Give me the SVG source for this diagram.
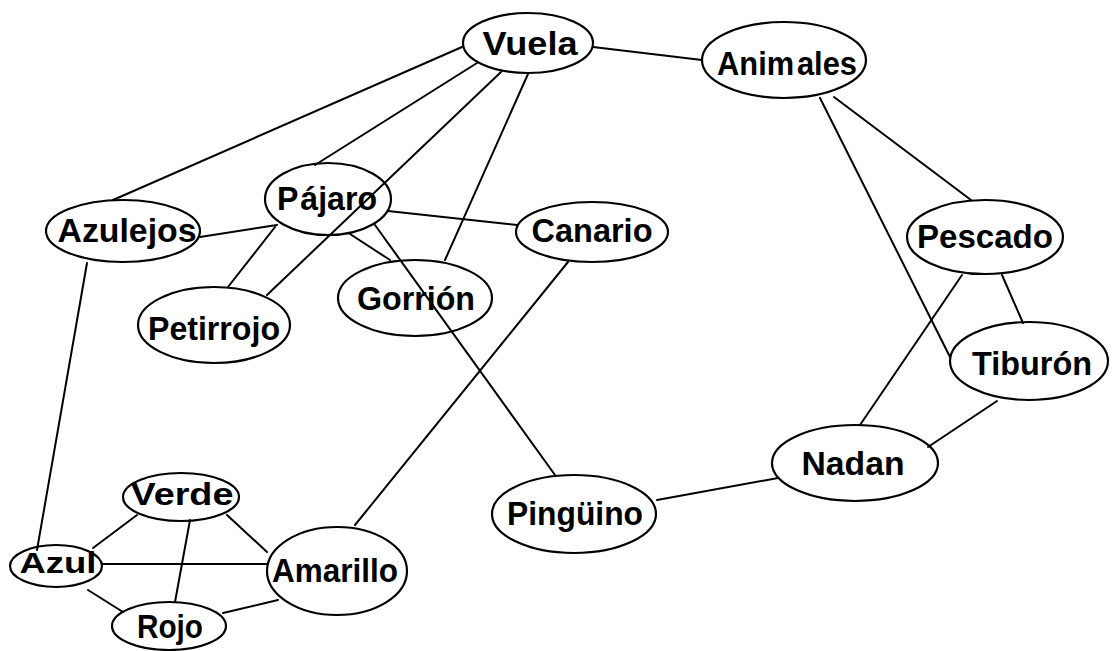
<svg xmlns="http://www.w3.org/2000/svg" width="1113" height="651" viewBox="0 0 1113 651">
  <style>
    .node ellipse { fill: none; stroke: #000; stroke-width: 2.2; }
    .node text { font-family: "Liberation Sans", Arial, sans-serif; font-weight: bold; font-size: 33px; fill: #000; text-anchor: middle; }
    #edges line { stroke: #000; stroke-width: 2; stroke-linecap: round; }
  </style>
  <rect width="1113" height="651" fill="#fff"/>

  <!-- connectors -->
  <g id="edges">
    <line x1="462" y1="47" x2="113" y2="200"/>   <!-- Vuela - Azulejos -->
    <line x1="477" y1="63" x2="315" y2="165"/>   <!-- Vuela - Pájaro -->
    <line x1="501" y1="72" x2="267" y2="295"/>   <!-- Vuela - Petirrojo -->
    <line x1="528" y1="74" x2="445" y2="260"/>   <!-- Vuela - Gorrión -->
    <line x1="593" y1="47" x2="702" y2="60"/>    <!-- Vuela - Animales -->
    <line x1="200" y1="237" x2="277" y2="225"/>  <!-- Azulejos - Pájaro -->
    <line x1="275" y1="227" x2="228" y2="287"/>  <!-- Pájaro - Petirrojo -->
    <line x1="388" y1="211" x2="517" y2="225"/>  <!-- Pájaro - Canario -->
    <line x1="350" y1="234" x2="390" y2="260"/>  <!-- Pájaro - Gorrión -->
    <line x1="375" y1="225" x2="555" y2="475"/>  <!-- Pájaro - Pingüino -->
    <line x1="568" y1="262" x2="355" y2="525"/>  <!-- Canario - Amarillo -->
    <line x1="87" y1="263" x2="37" y2="550"/>    <!-- Azulejos - Azul -->
    <line x1="834" y1="97" x2="971" y2="200"/>   <!-- Animales - Pescado -->
    <line x1="820" y1="98" x2="950" y2="357"/>   <!-- Animales - Tiburón -->
    <line x1="1002" y1="275" x2="1023" y2="323"/> <!-- Pescado - Tiburón -->
    <line x1="962" y1="275" x2="860" y2="425"/>  <!-- Pescado - Nadan -->
    <line x1="997" y1="401" x2="928" y2="447"/>  <!-- Tiburón - Nadan -->
    <line x1="657" y1="500" x2="778" y2="478"/>  <!-- Pingüino - Nadan -->
    <line x1="137" y1="515" x2="93" y2="548"/>   <!-- Verde - Azul -->
    <line x1="227" y1="515" x2="267" y2="552"/>  <!-- Verde - Amarillo -->
    <line x1="190" y1="520" x2="175" y2="602"/>  <!-- Verde - Rojo -->
    <line x1="102" y1="564" x2="267" y2="564"/>  <!-- Azul - Amarillo -->
    <line x1="88" y1="590" x2="123" y2="612"/>   <!-- Azul - Rojo -->
    <line x1="223" y1="613" x2="278" y2="600"/>  <!-- Rojo - Amarillo -->
  </g>

  <!-- nodes -->
  <g id="vuela" class="node">
    <ellipse cx="528" cy="43" rx="65" ry="30"/>
    <text x="530" y="55" textLength="95" lengthAdjust="spacingAndGlyphs">Vuela</text>
  </g>
  <g id="animales" class="node">
    <ellipse cx="784" cy="60" rx="82" ry="38"/>
    <text x="787" y="75" textLength="140" lengthAdjust="spacingAndGlyphs">Anim<tspan dx="3">ales</tspan></text>
  </g>
  <g id="azulejos" class="node">
    <ellipse cx="123" cy="231" rx="77" ry="31"/>
    <text x="127" y="242" textLength="139" lengthAdjust="spacingAndGlyphs">Azulejos</text>
  </g>
  <g id="pajaro" class="node">
    <ellipse cx="328" cy="199" rx="63" ry="36"/>
    <text x="327" y="210" textLength="100" lengthAdjust="spacingAndGlyphs">P<tspan dx="2">ájaro</tspan></text>
  </g>
  <g id="petirrojo" class="node">
    <ellipse cx="214" cy="325" rx="76" ry="38"/>
    <text x="214" y="340" textLength="132" lengthAdjust="spacingAndGlyphs">Petirrojo</text>
  </g>
  <g id="gorrion" class="node">
    <ellipse cx="415" cy="298" rx="77" ry="38"/>
    <text x="416" y="310" textLength="118" lengthAdjust="spacingAndGlyphs">Gorrión</text>
  </g>
  <g id="canario" class="node">
    <ellipse cx="592" cy="232" rx="76" ry="30"/>
    <text x="592" y="242" textLength="121" lengthAdjust="spacingAndGlyphs">Canario</text>
  </g>
  <g id="pescado" class="node">
    <ellipse cx="985" cy="237" rx="78" ry="37"/>
    <text x="985" y="248" textLength="136" lengthAdjust="spacingAndGlyphs">Pescado</text>
  </g>
  <g id="tiburon" class="node">
    <ellipse cx="1029" cy="361" rx="79" ry="39"/>
    <text x="1032" y="375" textLength="120" lengthAdjust="spacingAndGlyphs">Tiburón</text>
  </g>
  <g id="nadan" class="node">
    <ellipse cx="855" cy="463" rx="83" ry="38"/>
    <text x="853" y="475" textLength="103" lengthAdjust="spacingAndGlyphs">Nadan</text>
  </g>
  <g id="pinguino" class="node">
    <ellipse cx="574" cy="514" rx="82" ry="39"/>
    <text x="575" y="525" textLength="136" lengthAdjust="spacingAndGlyphs">Pingüino</text>
  </g>
  <g id="verde" class="node">
    <ellipse cx="181" cy="497" rx="58" ry="24"/>
    <text x="182" y="505" style="font-size:31px" textLength="103" lengthAdjust="spacingAndGlyphs">Verde</text>
  </g>
  <g id="azul" class="node">
    <ellipse cx="56" cy="566" rx="46" ry="21"/>
    <text x="58" y="573" style="font-size:30px" textLength="77" lengthAdjust="spacingAndGlyphs">Azul</text>
  </g>
  <g id="amarillo" class="node">
    <ellipse cx="337" cy="571" rx="70" ry="44"/>
    <text x="335" y="582" textLength="126" lengthAdjust="spacingAndGlyphs">Amarillo</text>
  </g>
  <g id="rojo" class="node">
    <ellipse cx="169" cy="626" rx="57" ry="24"/>
    <text x="170" y="638" textLength="66" lengthAdjust="spacingAndGlyphs">Rojo</text>
  </g>
</svg>
